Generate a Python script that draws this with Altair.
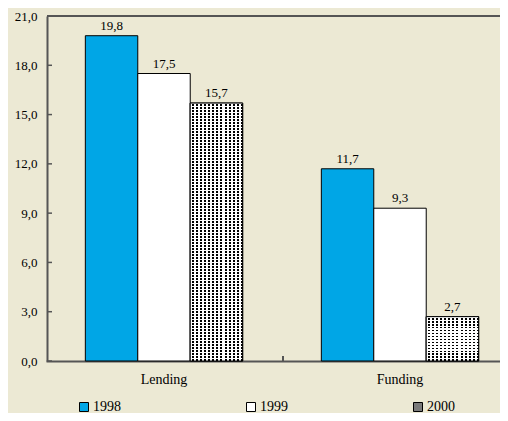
import altair as alt
import pandas as pd

# ---- data ----
categories = ["Lending", "Funding"]
years = ["1998", "1999", "2000"]
lending = [19.8, 17.5, 15.7]
funding = [11.7, 9.3, 2.7]
y_ticks = [0, 3, 6, 9, 12, 15, 18, 21]

rows = []
for y, v in zip(years, lending):
    rows.append({"cat": "Lending", "year": y, "value": v})
for y, v in zip(years, funding):
    rows.append({"cat": "Funding", "year": y, "value": v})
df = pd.DataFrame(rows)
ticks_df = pd.DataFrame({"v": y_ticks})

# ---- style ----
BG = "#ece9d4"
BLUE = "#00a6e6"
AX = "#555555"
FONT = "Liberation Serif"
W, H = 453, 345
YMAX = 21

def vstripes(n, dark=0.5):
    stops = []
    for i in range(n):
        a = i / n
        m = (i + 1 - dark) / n
        b = (i + 1) / n
        stops += [
            {"offset": a, "color": "white"},
            {"offset": m, "color": "white"},
            {"offset": m, "color": "black"},
            {"offset": b, "color": "black"},
        ]
    return {"gradient": "linear", "x1": 0, "y1": 0, "x2": 1, "y2": 0, "stops": stops}

def hstripes(n, solid=0.45):
    stops = []
    for i in range(n):
        a = i / n
        m = (i + solid) / n
        b = (i + 1) / n
        stops += [
            {"offset": a, "color": "rgba(255,255,255,1)"},
            {"offset": m, "color": "rgba(255,255,255,1)"},
            {"offset": m, "color": "rgba(255,255,255,0)"},
            {"offset": b, "color": "rgba(255,255,255,0)"},
        ]
    return {"gradient": "linear", "x1": 0, "y1": 0, "x2": 0, "y2": 1, "stops": stops}

x_enc = alt.X(
    "cat:N",
    sort=categories,
    scale=alt.Scale(domain=categories, range=[-1, 471], paddingInner=0, paddingOuter=0),
    axis=alt.Axis(
        title=None, labelAngle=0, ticks=False, tickSize=0, domain=True,
        domainColor=AX, domainWidth=2, labelFont=FONT, labelFontSize=14,
        labelColor="black", labelPadding=11,
    ),
)
xo_enc = alt.XOffset(
    "year:N", sort=years,
    scale=alt.Scale(domain=years, paddingOuter=0.75, paddingInner=0),
)
y_enc = alt.Y(
    "value:Q",
    scale=alt.Scale(domain=[0, YMAX], nice=False),
    axis=alt.Axis(
        title=None, values=y_ticks, grid=False, ticks=False, tickSize=0,
        domainColor=AX, domainWidth=2, labelFont=FONT, labelFontSize=13,
        labelColor="black", labelPadding=10,
        labelExpr="replace(format(datum.value, '.1f'), '.', ',')",
    ),
)

base = alt.Chart(df)

bars = base.mark_bar(stroke="black", strokeWidth=1).encode(
    x=x_enc,
    xOffset=xo_enc,
    y=y_enc,
    color=alt.Color(
        "year:N",
        scale=alt.Scale(domain=years, range=[BLUE, "white", "#7a7a7a"]),
        legend=alt.Legend(
            title=None, orient="none", legendX=30, legendY=384,
            direction="horizontal", columns=3, columnPadding=123,
            symbolType="square", symbolSize=81, symbolStrokeColor="black",
            symbolStrokeWidth=1, symbolOpacity=1, labelFont=FONT, labelFontSize=14,
            labelColor="black", labelOffset=2, padding=0,
        ),
    ),
)

layers = [bars]

# dotted pattern for the 2000 bars
for cat, vals in (("Lending", lending), ("Funding", funding)):
    v2000 = vals[years.index("2000")]
    px_h = v2000 / YMAX * H
    nrows = max(1, round(px_h / 3))
    p1 = base.mark_bar(fill=vstripes(13), strokeWidth=0).encode(
        x=x_enc, xOffset=xo_enc, y=y_enc
    ).transform_filter(
        (alt.datum.cat == cat) & (alt.datum.year == "2000")
    )
    p2 = base.mark_bar(fill=hstripes(nrows), stroke="black", strokeWidth=1).encode(
        x=x_enc, xOffset=xo_enc, y=y_enc
    ).transform_filter(
        (alt.datum.cat == cat) & (alt.datum.year == "2000")
    )
    layers += [p1, p2]

labels = base.transform_calculate(
    label="replace(format(datum.value, '.1f'), '.', ',')"
).mark_text(baseline="bottom", dy=-3, font=FONT, fontSize=13, color="black").encode(
    x=x_enc, xOffset=xo_enc, y=y_enc, text="label:N"
)
layers.append(labels)

# inward y ticks
ytick_rules = alt.Chart(ticks_df).mark_rule(color=AX, strokeWidth=1.5).encode(
    y=alt.Y("v:Q", scale=alt.Scale(domain=[0, YMAX], nice=False)),
    x=alt.value(0),
    x2=alt.value(5),
)
layers.append(ytick_rules)

# top border line
top_line = alt.Chart(pd.DataFrame({"v": [YMAX]})).mark_rule(color=AX, strokeWidth=2).encode(
    y=alt.Y("v:Q", scale=alt.Scale(domain=[0, YMAX], nice=False)),
)
layers.append(top_line)

# category separator tick
sep = alt.Chart(pd.DataFrame({"v": [0]})).mark_rule(color=AX, strokeWidth=2).encode(
    x=alt.value(236), y=alt.value(H - 5), y2=alt.value(H)
)
layers.append(sep)

chart = alt.layer(*layers).properties(
    width=W,
    height=H,
    background=BG,
    autosize=alt.AutoSizeParams(type="none"),
    padding={"left": 39, "top": 8, "right": 0, "bottom": 52},
).configure_view(stroke=None)

chart.save("out.html", embed_options={"renderer": "svg", "actions": False})
